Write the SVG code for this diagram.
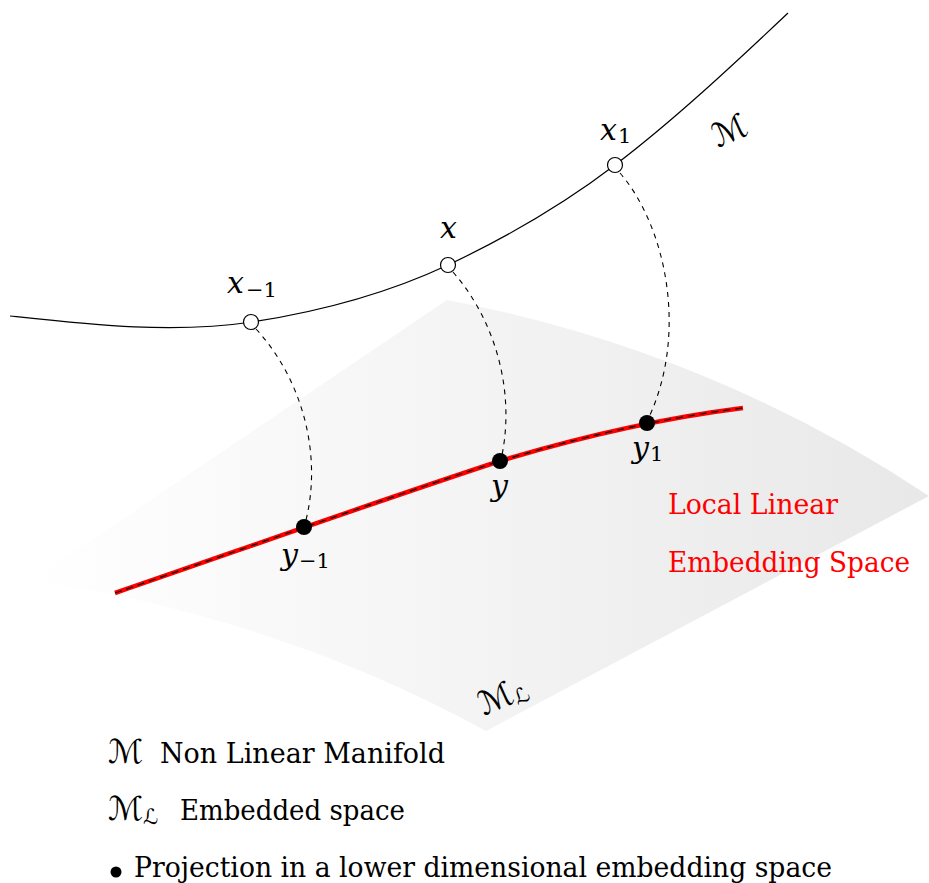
<svg xmlns="http://www.w3.org/2000/svg" width="929" height="883" viewBox="0 0 929 883">
<defs>
<linearGradient id="planeGrad" gradientUnits="userSpaceOnUse" x1="32" y1="0" x2="929" y2="0">
<stop offset="0" stop-color="#ffffff"/>
<stop offset="1" stop-color="#e8e8e8"/>
</linearGradient>
<style>
.curve{fill:none;stroke:#000;stroke-width:1.2}
.proj{fill:none;stroke:#000;stroke-width:1.1;stroke-dasharray:5 5}
.open{fill:#fff;stroke:#000;stroke-width:1.2}
.dot{fill:#000}
.math{font-style:italic;font-size:30px;fill:#000}
.sub{font-style:normal;font-size:21px;fill:#000}
.cal{font-size:33px;fill:#000}
.txt{font-size:27px;fill:#000}
.red{font-size:27px;fill:#ff0000}
</style>
</defs>

<g id="plane">
<path d="M32,580 L447,300 Q709,350 929,496 L486,731 Q280,618 32,580 Z" fill="url(#planeGrad)"/>
<text class="cal" font-family="DejaVu Sans, sans-serif" transform="translate(484,716) rotate(-24)">ℳ<tspan font-size="21" dy="4">ℒ</tspan></text>
</g>

<g id="manifold">
<path class="curve" d="M10,316 C90,324.6 172,334 252,322 C317,312 383,295.5 448,265 C503,239 560,207 615,165 C673,121 733,65 788,13"/>
<text class="cal" font-family="DejaVu Sans, sans-serif" transform="translate(718,148) rotate(-24)">ℳ</text>
</g>

<g id="embedding-line">
<path d="M115,593 C243,549 372,503 500,461 C580,437 663,418 743,408" fill="none" stroke="#ff0000" stroke-width="4.5"/>
<path d="M115,593 C243,549 372,503 500,461 C580,437 663,418 743,408" fill="none" stroke="#000" stroke-width="1.2" stroke-dasharray="7 5"/>
</g>

<g id="connectors">
<path class="proj" d="M256,329 C303,380 322,455 306,520"/>
<path class="proj" d="M453,272 C495,320 515,390 502,455"/>
<path class="proj" d="M620,173 C665,225 688,330 650,415"/>
</g>

<g id="node-x-minus1">
<circle class="open" cx="251" cy="322" r="7.5"/>
<text class="math" font-family="DejaVu Serif, serif" x="227" y="293">x<tspan class="sub" dx="2" dy="4">−1</tspan></text>
</g>
<g id="node-x">
<circle class="open" cx="448" cy="265" r="7.5"/>
<text class="math" font-family="DejaVu Serif, serif" x="440" y="238">x</text>
</g>
<g id="node-x1">
<circle class="open" cx="615" cy="165" r="7.5"/>
<text class="math" font-family="DejaVu Serif, serif" x="600" y="140">x<tspan class="sub" dx="1" dy="3">1</tspan></text>
</g>
<g id="node-y-minus1">
<circle class="dot" cx="304" cy="527" r="8"/>
<text class="math" font-family="DejaVu Serif, serif" x="281" y="565">y<tspan class="sub" dx="1" dy="3">−1</tspan></text>
</g>
<g id="node-y">
<circle class="dot" cx="500" cy="461" r="8"/>
<text class="math" font-family="DejaVu Serif, serif" x="491" y="496">y</text>
</g>
<g id="node-y1">
<circle class="dot" cx="647" cy="423" r="8"/>
<text class="math" font-family="DejaVu Serif, serif" x="632" y="458">y<tspan class="sub" dx="1" dy="3">1</tspan></text>
</g>

<g id="label-lle">
<text class="red" font-family="DejaVu Serif, serif" x="668" y="514" textLength="170" lengthAdjust="spacingAndGlyphs">Local Linear</text>
<text class="red" font-family="DejaVu Serif, serif" x="668" y="572" textLength="242" lengthAdjust="spacingAndGlyphs">Embedding Space</text>
</g>

<g id="legend">
<text class="cal" font-family="DejaVu Sans, sans-serif" x="108" y="763">ℳ</text>
<text class="txt" font-family="DejaVu Serif, serif" x="160" y="763" textLength="285" lengthAdjust="spacingAndGlyphs">Non Linear Manifold</text>
<text class="cal" font-family="DejaVu Sans, sans-serif" x="108" y="820">ℳ<tspan font-size="21" dy="4">ℒ</tspan></text>
<text class="txt" font-family="DejaVu Serif, serif" x="180" y="820" textLength="225" lengthAdjust="spacingAndGlyphs">Embedded space</text>
<circle class="dot" cx="116" cy="872" r="5.5"/>
<text class="txt" font-family="DejaVu Serif, serif" x="134" y="877" textLength="698" lengthAdjust="spacingAndGlyphs">Projection in a lower dimensional embedding space</text>
</g>
</svg>
